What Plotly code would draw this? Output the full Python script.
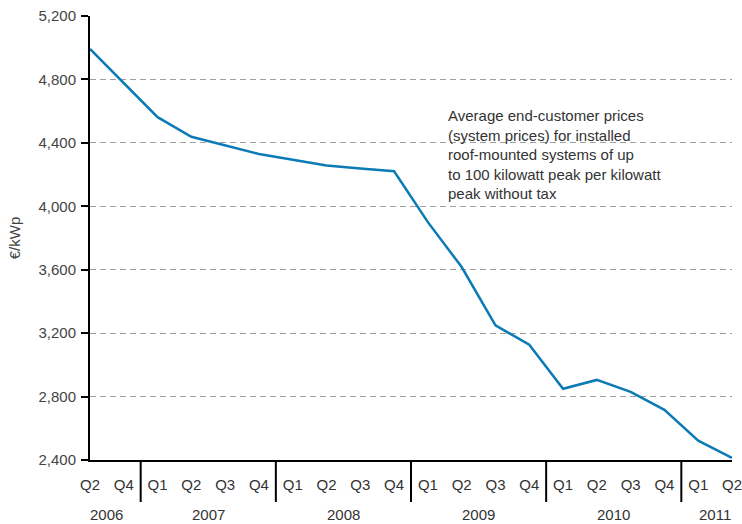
import plotly.graph_objects as go

quarters = ["Q2", "Q4", "Q1", "Q2", "Q3", "Q4", "Q1", "Q2", "Q3", "Q4",
            "Q1", "Q2", "Q3", "Q4", "Q1", "Q2", "Q3", "Q4", "Q1", "Q2"]
years = ["2006", "2006", "2007", "2007", "2007", "2007", "2008", "2008", "2008", "2008",
         "2009", "2009", "2009", "2009", "2010", "2010", "2010", "2010", "2011", "2011"]
prices = [4992, 4780, 4562, 4438, 4385, 4330, 4293, 4257, 4238, 4221,
          3900, 3617, 3249, 3127, 2849, 2905, 2830, 2716, 2522, 2413]
y_ticks = [2400, 2800, 3200, 3600, 4000, 4400, 4800, 5200]
note = ("Average end-customer prices<br>(system prices) for installed<br>"
        "roof-mounted systems of up<br>to 100 kilowatt peak per kilowatt<br>peak without tax")

FONT = "Liberation Sans, Arial, sans-serif"
idx = list(range(len(prices)))

fig = go.Figure()
fig.add_trace(go.Scatter(x=idx, y=prices, mode="lines",
                         line=dict(color="#0b7bb5", width=2.5),
                         hoverinfo="skip", showlegend=False))

# year group labels and dividers
unique_years = []
for y in years:
    if y not in unique_years:
        unique_years.append(y)
for yr in unique_years:
    pos = [i for i, y in enumerate(years) if y == yr]
    fig.add_annotation(x=sum(pos) / len(pos), y=0, xref="x", yref="paper",
                       text=yr, showarrow=False, yanchor="middle", yshift=-54,
                       font=dict(size=15, color="#333333", family=FONT))
for i in range(1, len(years)):
    if years[i] != years[i - 1]:
        fig.add_shape(type="line", xref="x", yref="paper",
                      x0=i - 0.5, x1=i - 0.5, y0=0, y1=-42 / 444,
                      line=dict(color="black", width=2))

fig.add_annotation(x=0.554, y=0.80, xref="paper", yref="paper", text=note,
                   showarrow=False, xanchor="left", yanchor="top", align="left",
                   font=dict(size=15, color="#333333", family=FONT))

fig.update_layout(
    width=742, height=524,
    margin=dict(l=90, r=10, t=16, b=64),
    paper_bgcolor="white", plot_bgcolor="white",
    font=dict(family=FONT, size=15, color="#444444"),
    xaxis=dict(range=[0, 19], tickmode="array", tickvals=idx, ticktext=quarters,
               showgrid=False, zeroline=False, showline=True, linecolor="black",
               linewidth=2, ticks="", ticklabelstandoff=10, automargin=False,
               ticklabeloverflow="allow",
               tickfont=dict(size=15, color="#333333")),
    yaxis=dict(range=[2400, 5200], tickmode="array", tickvals=y_ticks,
               tickformat=",d", showgrid=True, gridcolor="#a0a0a0", gridwidth=1,
               griddash="6px,4px", zeroline=False, showline=True, linecolor="black",
               linewidth=2, ticks="outside", ticklen=7, tickwidth=2, tickcolor="black",
               ticklabelstandoff=2, automargin=False, ticklabeloverflow="allow",
               tickfont=dict(size=15, color="#444444"),
               title=dict(text="€/kWp", standoff=14,
                          font=dict(size=15, color="#444444"))),
)

fig.write_html("out.html", config={"displayModeBar": False},
               post_script="document.body.style.margin='0';")
